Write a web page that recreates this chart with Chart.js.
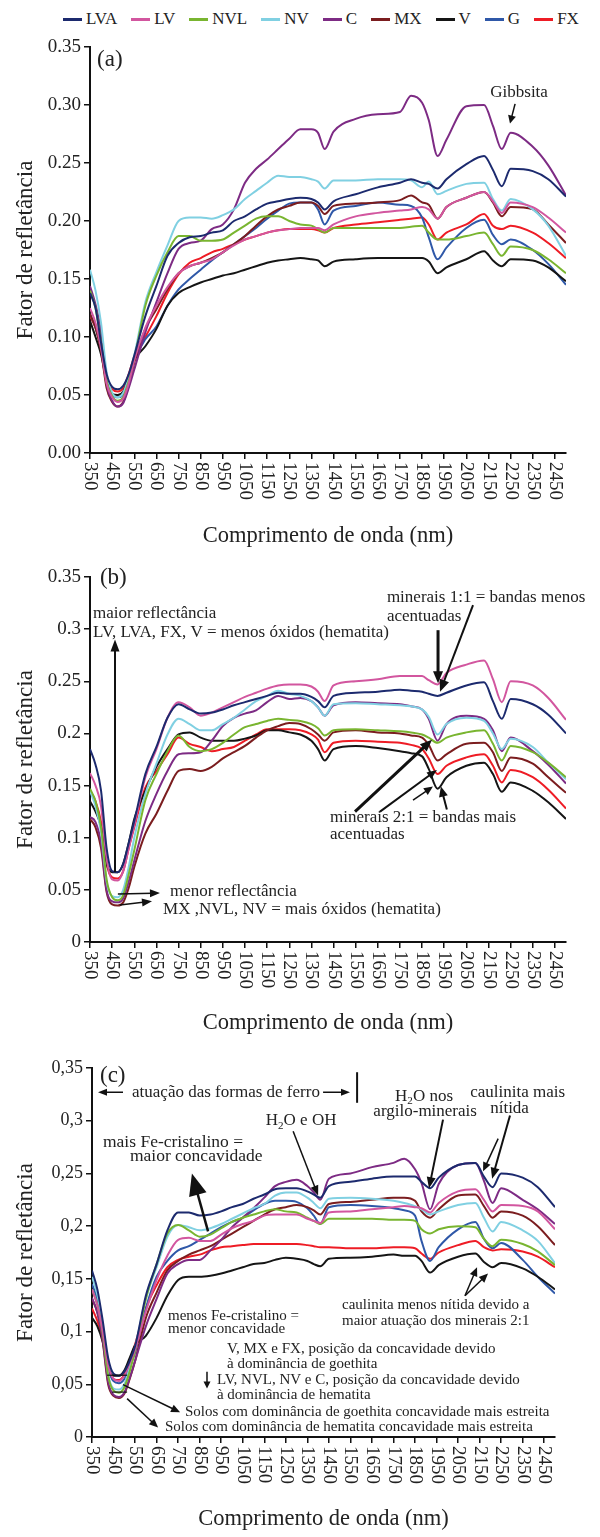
<!DOCTYPE html>
<html>
<head>
<meta charset="utf-8">
<script src="https://cdn.jsdelivr.net/npm/chart.js@4.4.0/dist/chart.umd.min.js"></script>
<style>
body { margin: 0; background: #fff; width: 600px; height: 1537px; position: relative; overflow: hidden;
       font-family: "Liberation Serif", "Times New Roman", serif; color: #222; }
#legend { position: absolute; left: 63px; top: 9px; display: flex; gap: 14px; font-size: 17px; line-height: 20px; }
#legend .item { display: flex; align-items: center; gap: 4px; }
#legend i { display: inline-block; width: 19px; height: 3px; }
canvas { position: absolute; left: 0; }
</style>
</head>
<body>
<div id="legend"></div>
<canvas id="chartA" width="600" height="530" style="top:30px"></canvas>
<canvas id="chartB" width="600" height="485" style="top:560px"></canvas>
<canvas id="chartC" width="600" height="492" style="top:1045px"></canvas>
<script>
// wavelengths (nm) shared by all three panels
const waveNm = [350, 375, 400, 425, 450, 475, 500, 525, 550, 600, 650, 700, 750, 800, 850, 900, 950, 1000,
  1050, 1100, 1150, 1200, 1250, 1300, 1350, 1380, 1410, 1450, 1550, 1650, 1750, 1800, 1850, 1880, 1920, 1960,
  2050, 2130, 2170, 2210, 2250, 2350, 2420, 2500];
const xTicks = [350, 450, 550, 650, 750, 850, 950, 1050, 1150, 1250, 1350, 1450, 1550, 1650, 1750, 1850, 1950, 2050, 2150, 2250, 2350, 2450];

const seriesNames = ['LVA', 'LV', 'NVL', 'NV', 'C', 'MX', 'V', 'G', 'FX'];
const seriesColors = ['#1c2a6e', '#d2569f', '#79b530', '#80d0e2', '#7d2b84', '#7b1d1f', '#151515', '#2f58a8', '#ee1c25'];

// panel (a)
const lvaA = [.138,.125,.095,.068,.057,.055,.058,.068,.084, .118,.144,.170,.181,.186,.187,.190,.192,.200, .204,.210,.215,.217,.219,.220,.219,.216,.210, .217,.223,.229,.233,.236,.233,.232,.228,.236, .249,.256,.244,.230,.245,.243,.236,.221];
const lvA = [.125,.112,.090,.060,.048,.044,.047,.060,.080, .108,.127,.143,.155,.161,.164,.167,.173,.179, .184,.187,.190,.192,.193,.194,.194,.194,.192, .197,.204,.207,.209,.210,.212,.210,.202,.212, .220,.225,.217,.207,.216,.212,.203,.190];
const nvlA = [.140,.125,.095,.062,.049,.045,.048,.062,.081, .127,.153,.173,.187,.187,.183,.183,.184,.190, .196,.202,.204,.204,.200,.197,.196,.193,.190, .194,.194,.194,.194,.195,.196,.190,.184,.184, .187,.190,.180,.170,.178,.175,.167,.155];
const nvA = [.158,.140,.112,.070,.052,.048,.052,.065,.084, .130,.156,.179,.200,.203,.203,.202,.205,.210, .219,.226,.233,.239,.238,.238,.236,.234,.228, .235,.235,.236,.236,.235,.229,.234,.223,.226, .232,.233,.219,.209,.219,.210,.196,.170];
const cA = [.144,.128,.104,.060,.045,.040,.043,.056,.072, .104,.130,.155,.176,.181,.183,.193,.197,.210, .233,.245,.253,.262,.271,.279,.279,.276,.262, .277,.288,.292,.294,.308,.302,.287,.256,.270, .299,.300,.282,.262,.276,.264,.248,.222];
const mxA = [.120,.108,.088,.056,.044,.040,.044,.058,.078, .107,.124,.141,.155,.161,.164,.168,.173,.180, .187,.196,.204,.210,.213,.216,.216,.213,.206, .213,.215,.216,.218,.222,.216,.214,.202,.212, .220,.225,.216,.204,.212,.210,.197,.181];
const vA = [.114,.100,.085,.062,.051,.050,.053,.065,.080, .092,.107,.127,.138,.143,.147,.150,.153,.155, .158,.161,.164,.166,.167,.168,.167,.166,.161, .165,.167,.168,.168,.168,.168,.165,.155,.160, .167,.174,.166,.161,.167,.166,.160,.148];
const gA = [.120,.108,.090,.062,.051,.048,.050,.062,.080, .098,.109,.127,.141,.150,.158,.166,.173,.180, .187,.194,.202,.209,.215,.216,.216,.210,.197, .209,.213,.216,.214,.213,.203,.186,.167,.177, .194,.201,.188,.180,.184,.175,.163,.145];
const fxA = [.118,.108,.090,.065,.055,.053,.056,.068,.083, .100,.118,.138,.154,.164,.168,.173,.176,.180, .184,.187,.190,.192,.193,.193,.193,.192,.190, .194,.197,.199,.201,.202,.203,.197,.184,.190, .197,.206,.196,.193,.196,.190,.181,.168];

// panel (b) - no G curve
const lvaB = [.185,.170,.145,.090,.068,.067,.075,.095,.116, .161,.187,.215,.228,.223,.219,.220,.223,.227, .230,.233,.236,.239,.238,.238,.235,.231,.225, .236,.239,.240,.242,.241,.240,.238,.236,.239, .246,.249,.231,.214,.233,.228,.218,.200];
const lvB = [.162,.150,.130,.080,.060,.059,.068,.090,.112, .158,.185,.215,.230,.225,.217,.220,.225,.230, .235,.239,.243,.246,.247,.247,.245,.240,.231, .246,.250,.252,.255,.255,.255,.251,.247,.258, .266,.270,.252,.230,.250,.246,.234,.213];
const nvlB = [.147,.135,.110,.060,.043,.040,.045,.065,.088, .136,.161,.183,.198,.187,.183,.185,.191,.199, .206,.209,.212,.214,.213,.212,.209,.205,.198, .203,.204,.203,.202,.201,.199,.196,.191,.196, .201,.203,.190,.174,.188,.182,.172,.158];
const nvB = [.145,.130,.105,.058,.044,.043,.050,.072,.100, .142,.171,.199,.214,.209,.203,.203,.209,.215, .223,.231,.236,.241,.238,.236,.231,.225,.217, .228,.229,.228,.227,.226,.223,.216,.199,.209, .215,.212,.200,.185,.195,.187,.172,.156];
const cB = [.120,.115,.095,.050,.039,.038,.042,.058,.078, .116,.142,.164,.180,.181,.182,.193,.207,.215, .219,.222,.230,.236,.233,.234,.231,.225,.217, .227,.230,.229,.228,.226,.223,.214,.193,.209, .217,.214,.203,.183,.196,.183,.170,.152];
const mxB = [.118,.110,.090,.048,.036,.035,.038,.052,.072, .104,.123,.145,.164,.166,.164,.168,.176,.182, .188,.196,.203,.207,.210,.209,.204,.199,.193, .201,.203,.201,.200,.198,.196,.189,.174,.180, .190,.191,.182,.164,.177,.171,.158,.143];
const vB = [.135,.125,.110,.075,.067,.067,.075,.095,.118, .145,.168,.185,.199,.201,.196,.193,.193,.193, .195,.198,.203,.203,.201,.199,.193,.185,.174, .185,.188,.186,.183,.181,.178,.166,.147,.158, .169,.172,.161,.144,.153,.145,.134,.118];
const fxB = [.145,.135,.115,.075,.062,.061,.068,.090,.110, .148,.164,.180,.196,.190,.187,.183,.185,.187, .193,.199,.204,.204,.204,.203,.199,.194,.182, .191,.193,.192,.191,.189,.185,.176,.161,.169, .177,.180,.169,.153,.165,.158,.146,.128];

// panel (c)
const lvaC = [.158,.140,.110,.075,.060,.058,.062,.072,.086, .134,.164,.196,.213,.213,.210,.211,.214,.218, .221,.226,.230,.235,.236,.236,.233,.230,.227, .238,.242,.245,.247,.247,.247,.242,.236,.246, .258,.260,.247,.237,.250,.246,.237,.218];
const lvC = [.140,.125,.100,.068,.055,.053,.058,.070,.083, .119,.149,.172,.187,.189,.186,.186,.192,.198, .202,.205,.210,.211,.211,.211,.207,.205,.203, .213,.214,.216,.218,.219,.218,.217,.213,.222, .233,.235,.225,.214,.220,.219,.214,.197];
const nvlC = [.140,.125,.098,.058,.044,.042,.047,.062,.082, .131,.164,.193,.201,.196,.190,.192,.198,.204, .208,.211,.214,.216,.214,.213,.208,.205,.202, .207,.207,.207,.206,.206,.205,.197,.193,.197, .200,.199,.188,.181,.187,.183,.176,.163];
const nvC = [.152,.135,.105,.060,.046,.045,.050,.066,.085, .131,.161,.190,.201,.199,.196,.198,.202,.207, .212,.217,.221,.229,.232,.232,.227,.222,.217, .226,.227,.226,.224,.222,.219,.216,.211,.214, .220,.222,.208,.195,.204,.196,.186,.165];
const cC = [.132,.118,.092,.052,.040,.038,.042,.056,.072, .105,.131,.155,.164,.168,.168,.177,.187,.199, .208,.217,.227,.238,.242,.244,.238,.232,.225, .245,.250,.256,.260,.264,.254,.241,.216,.240, .258,.260,.243,.222,.236,.225,.216,.202];
const mxC = [.131,.118,.090,.050,.039,.037,.041,.055,.072, .113,.137,.158,.167,.173,.177,.181,.187,.193, .199,.205,.211,.216,.218,.220,.218,.215,.211, .221,.223,.225,.227,.227,.224,.214,.208,.216, .229,.230,.219,.208,.214,.210,.200,.182];
const vC = [.113,.105,.090,.066,.058,.058,.063,.075,.087, .096,.113,.134,.149,.152,.152,.153,.155,.158, .161,.164,.165,.168,.170,.169,.167,.164,.162, .169,.170,.171,.173,.172,.172,.167,.156,.163, .171,.174,.166,.161,.165,.160,.152,.140];
const gC = [.145,.130,.100,.066,.053,.051,.055,.067,.080, .122,.152,.167,.177,.181,.187,.193,.199,.204, .208,.215,.221,.224,.224,.223,.217,.210,.202, .218,.220,.219,.217,.215,.210,.186,.167,.180, .197,.204,.188,.179,.184,.168,.152,.136];
const fxC = [.122,.110,.092,.065,.055,.054,.059,.072,.088, .122,.144,.161,.168,.171,.173,.177,.180,.181, .182,.183,.183,.183,.183,.183,.182,.181,.180, .180,.179,.179,.180,.180,.179,.174,.169,.175, .182,.186,.180,.177,.178,.176,.171,.161];

const panelA = [lvaA, lvA, nvlA, nvA, cA, mxA, vA, gA, fxA];
const panelB = [lvaB, lvB, nvlB, nvB, cB, mxB, vB, null, fxB];
const panelC = [lvaC, lvC, nvlC, nvC, cC, mxC, vC, gC, fxC];

// annotations, positioned in data units (nm, reflectance)
const notesA = [
  {t: 'text', x: 382, y: 0.339, s: '(a)', size: 23},
  {t: 'text', x: 2288, y: 0.311, s: 'Gibbsita', size: 17, align: 'center'},
  {t: 'arrow', x1: 2270, y1: 0.301, x2: 2247, y2: 0.284, w: 1.5, head: 8, hw: 4}
];
const notesB = [
  {t: 'text', x: 395, y: 0.349, s: '(b)', size: 23},
  {t: 'text', x: 364, y: 0.315, s: 'maior reflectância', size: 17},
  {t: 'text', x: 364, y: 0.297, s: 'LV, LVA, FX, V = menos óxidos (hematita)', size: 17},
  {t: 'arrow', x1: 463, y1: 0.067, x2: 463, y2: 0.29, w: 2, head: 12, hw: 4.5},
  {t: 'text', x: 711, y: 0.048, s: 'menor reflectância', size: 17},
  {t: 'text', x: 680, y: 0.031, s: 'MX ,NVL, NV = mais óxidos (hematita)', size: 17},
  {t: 'arrow', x1: 476, y1: 0.046, x2: 666, y2: 0.047, w: 1.5, head: 10, hw: 4},
  {t: 'arrow', x1: 485, y1: 0.0355, x2: 630, y2: 0.039, w: 1.5, head: 10, hw: 4},
  {t: 'text', x: 1691, y: 0.33, s: 'minerais 1:1 = bandas menos', size: 17},
  {t: 'text', x: 1691, y: 0.312, s: 'acentuadas', size: 17},
  {t: 'arrow', x1: 1922, y1: 0.299, x2: 1922, y2: 0.248, w: 3, head: 12, hw: 5},
  {t: 'arrow', x1: 2080, y1: 0.323, x2: 1931, y2: 0.24, w: 2, head: 12, hw: 5},
  {t: 'text', x: 1434, y: 0.119, s: 'minerais 2:1 = bandas mais', size: 17},
  {t: 'text', x: 1434, y: 0.103, s: 'acentuadas', size: 17},
  {t: 'arrow', x1: 1547, y1: 0.125, x2: 1895, y2: 0.194, w: 3, head: 12, hw: 5},
  {t: 'arrow', x1: 1660, y1: 0.125, x2: 1917, y2: 0.165, w: 2, head: 10, hw: 4},
  {t: 'arrow', x1: 1809, y1: 0.136, x2: 1899, y2: 0.149, w: 1.5, head: 9, hw: 4},
  {t: 'arrow', x1: 1962, y1: 0.127, x2: 1935, y2: 0.149, w: 2, head: 10, hw: 4.5}
];
const notesC = [
  {t: 'text', x: 387, y: 0.342, s: '(c)', size: 23},
  {t: 'arrow', x1: 494, y1: 0.327, x2: 378, y2: 0.327, w: 1.5, head: 9, hw: 3.5},
  {t: 'text', x: 536, y: 0.327, s: 'atuação das formas de ferro', size: 17},
  {t: 'arrow', x1: 1423, y1: 0.327, x2: 1548, y2: 0.327, w: 1.5, head: 9, hw: 3.5},
  {t: 'line', x1: 1581, y1: 0.346, x2: 1581, y2: 0.317, w: 2},
  {t: 'text', x: 1321, y: 0.300, s: [['H', 0], ['2', 1], ['O e OH', 0]], size: 17, align: 'center'},
  {t: 'arrow', x1: 1284, y1: 0.290, x2: 1400, y2: 0.229, w: 1.5, head: 10, hw: 4},
  {t: 'text', x: 401, y: 0.279, s: 'mais Fe-cristalino =', size: 17.5},
  {t: 'text', x: 526, y: 0.266, s: 'maior concavidade', size: 17.5},
  {t: 'arrow', x1: 889, y1: 0.195, x2: 814, y2: 0.25, w: 2.5, head: 22, hw: 9},
  {t: 'text', x: 703, y: 0.115, s: 'menos Fe-cristalino =', size: 15},
  {t: 'text', x: 703, y: 0.102, s: 'menor concavidade', size: 15},
  {t: 'text', x: 977, y: 0.0835, s: 'V, MX e FX, posição da concavidade devido', size: 15},
  {t: 'text', x: 977, y: 0.069, s: 'à dominância de goethita', size: 15},
  {t: 'arrow', x1: 884, y1: 0.062, x2: 884, y2: 0.046, w: 1.5, head: 7, hw: 3.5},
  {t: 'text', x: 930, y: 0.054, s: 'LV, NVL, NV e C, posição da concavidade devido', size: 15},
  {t: 'text', x: 930, y: 0.0395, s: 'à dominância de hematita', size: 15},
  {t: 'line', x1: 420, y1: 0.0586, x2: 513, y2: 0.0586, w: 1.2},
  {t: 'line', x1: 443, y1: 0.0426, x2: 513, y2: 0.0426, w: 1.2},
  {t: 'arrow', x1: 494, y1: 0.0497, x2: 759, y2: 0.0235, w: 1.5, head: 9, hw: 4},
  {t: 'text', x: 782, y: 0.0235, s: 'Solos com dominância de goethita concavidade mais estreita', size: 15},
  {t: 'arrow', x1: 513, y1: 0.0364, x2: 657, y2: 0.009, w: 1.5, head: 9, hw: 4},
  {t: 'text', x: 689, y: 0.009, s: 'Solos com dominância de hematita concavidade mais estreita', size: 15},
  {t: 'text', x: 1892, y: 0.323, s: [['H', 0], ['2', 1], ['O nos', 0]], size: 17, align: 'center'},
  {t: 'text', x: 1897, y: 0.309, s: 'argilo-minerais', size: 17, align: 'center'},
  {t: 'arrow', x1: 1980, y1: 0.301, x2: 1915, y2: 0.236, w: 2, head: 11, hw: 4.5},
  {t: 'text', x: 2106, y: 0.327, s: 'caulinita mais', size: 17},
  {t: 'text', x: 2199, y: 0.312, s: 'nítida', size: 17},
  {t: 'arrow', x1: 2291, y1: 0.305, x2: 2208, y2: 0.245, w: 2, head: 11, hw: 4.5},
  {t: 'arrow', x1: 2236, y1: 0.283, x2: 2166, y2: 0.252, w: 1.5, head: 9, hw: 4},
  {t: 'text', x: 1511, y: 0.125, s: 'caulinita menos nítida devido a', size: 15},
  {t: 'text', x: 1511, y: 0.110, s: 'maior atuação dos minerais 2:1', size: 15},
  {t: 'arrow', x1: 2082, y1: 0.134, x2: 2138, y2: 0.161, w: 1.5, head: 9, hw: 4},
  {t: 'arrow', x1: 2082, y1: 0.134, x2: 2189, y2: 0.155, w: 1.5, head: 9, hw: 4}
];

const FONT = '"Liberation Serif", "Times New Roman", serif';
const INK = '#222';
Chart.defaults.font.family = FONT;
Chart.defaults.color = INK;

// html legend
var legendEl = document.getElementById('legend');
seriesNames.forEach(function (name, i) {
  var item = document.createElement('span');
  item.className = 'item';
  item.innerHTML = '<i style="background:' + seriesColors[i] + '"></i>' + name;
  legendEl.appendChild(item);
});

function drawArrow(ctx, x1, y1, x2, y2, w, head, hw) {
  var a = Math.atan2(y2 - y1, x2 - x1);
  var c = Math.cos(a), s = Math.sin(a);
  ctx.lineWidth = w;
  ctx.beginPath();
  ctx.moveTo(x1, y1);
  ctx.lineTo(x2 - c * head * 0.7, y2 - s * head * 0.7);
  ctx.stroke();
  ctx.beginPath();
  ctx.moveTo(x2, y2);
  ctx.lineTo(x2 - head * c + hw * s, y2 - head * s - hw * c);
  ctx.lineTo(x2 - head * c - hw * s, y2 - head * s + hw * c);
  ctx.closePath();
  ctx.fill();
}

function drawText(ctx, parts, x, y, size, align) {
  if (typeof parts === 'string') parts = [[parts, 0]];
  var widths = parts.map(function (p) {
    ctx.font = (p[1] ? size * 0.65 : size) + 'px ' + FONT;
    return ctx.measureText(p[0]).width;
  });
  var total = widths.reduce(function (a, b) { return a + b; }, 0);
  var cx = align === 'center' ? x - total / 2 : x;
  ctx.textAlign = 'left';
  ctx.textBaseline = 'middle';
  parts.forEach(function (p, i) {
    ctx.font = (p[1] ? size * 0.65 : size) + 'px ' + FONT;
    ctx.fillText(p[0], cx, p[1] ? y + size * 0.3 : y);
    cx += widths[i];
  });
}

// notes + rotated wavelength labels
function makeNotes(items, labelSize) {
  return {
    id: 'notes',
    afterDraw: function (chart) {
      var ctx = chart.ctx, sx = chart.scales.x, sy = chart.scales.y;
      ctx.save();
      ctx.fillStyle = INK;
      ctx.strokeStyle = '#111';
      // x tick labels read top to bottom
      ctx.font = labelSize + 'px ' + FONT;
      ctx.textAlign = 'left';
      ctx.textBaseline = 'middle';
      xTicks.forEach(function (v) {
        ctx.save();
        ctx.translate(sx.getPixelForValue(v), sx.top + 9);
        ctx.rotate(Math.PI / 2);
        ctx.fillText(String(v), 0, 0);
        ctx.restore();
      });
      ctx.fillStyle = '#111';
      items.forEach(function (n) {
        if (n.t === 'text') {
          ctx.fillStyle = INK;
          drawText(ctx, n.s, sx.getPixelForValue(n.x), sy.getPixelForValue(n.y), n.size, n.align);
          ctx.fillStyle = '#111';
        } else if (n.t === 'arrow') {
          drawArrow(ctx, sx.getPixelForValue(n.x1), sy.getPixelForValue(n.y1),
            sx.getPixelForValue(n.x2), sy.getPixelForValue(n.y2), n.w, n.head, n.hw);
        } else if (n.t === 'line') {
          ctx.lineWidth = n.w;
          ctx.beginPath();
          ctx.moveTo(sx.getPixelForValue(n.x1), sy.getPixelForValue(n.y1));
          ctx.lineTo(sx.getPixelForValue(n.x2), sy.getPixelForValue(n.y2));
          ctx.stroke();
        }
      });
      ctx.restore();
    }
  };
}

function buildChart(id, panel, notes, cfg) {
  var datasets = [];
  panel.forEach(function (vals, i) {
    if (!vals) return;
    datasets.push({
      label: seriesNames[i],
      data: waveNm.map(function (w, k) { return {x: w, y: vals[k]}; }),
      borderColor: seriesColors[i],
      backgroundColor: seriesColors[i],
      borderWidth: 2,
      pointRadius: 0,
      cubicInterpolationMode: 'monotone',
      fill: false
    });
  });
  return new Chart(document.getElementById(id), {
    type: 'line',
    data: {datasets: datasets},
    options: {
      responsive: false,
      animation: false,
      layout: {padding: {top: cfg.padTop, right: cfg.padRight, bottom: 0, left: 0}},
      plugins: {legend: {display: false}, tooltip: {enabled: false}},
      scales: {
        x: {
          type: 'linear',
          min: 350, max: 2500,
          afterBuildTicks: function (s) { s.ticks = xTicks.map(function (v) { return {value: v}; }); },
          afterFit: function (s) { s.height = cfg.xHeight; },
          border: {color: '#111', width: 2},
          grid: {drawOnChartArea: false, drawTicks: true, tickLength: 6, color: '#111', lineWidth: 1.5},
          ticks: {display: false},
          title: {display: true, text: 'Comprimento de onda (nm)', font: {size: 22.5}, color: INK,
                  padding: {top: 0, bottom: cfg.xTitlePad}}
        },
        y: {
          min: 0, max: 0.35,
          afterFit: function (s) { s.width = cfg.yWidth; },
          border: {color: '#111', width: 2},
          grid: {drawOnChartArea: false, drawTicks: true, tickLength: 6, color: '#111', lineWidth: 1.5},
          ticks: {stepSize: 0.05, font: {size: cfg.yTickSize}, color: INK, padding: 3, callback: cfg.fmt},
          title: {display: true, text: 'Fator de refletância', font: {size: 23}, color: INK,
                  padding: {top: 12, bottom: 0}}
        }
      }
    },
    plugins: [makeNotes(notes, 19)]
  });
}

buildChart('chartA', panelA, notesA, {padTop: 17, padRight: 34, xHeight: 107, xTitlePad: 10.5, yWidth: 90, yTickSize: 19,
  fmt: function (v) { return v.toFixed(2); }});
buildChart('chartB', panelB, notesB, {padTop: 17, padRight: 34, xHeight: 103, xTitlePad: 8.5, yWidth: 90, yTickSize: 19,
  fmt: function (v) { return String(Math.round(v * 100) / 100); }});
buildChart('chartC', panelC, notesC, {padTop: 23, padRight: 45, xHeight: 100, xTitlePad: 4.5, yWidth: 92, yTickSize: 18,
  fmt: function (v) { return String(Math.round(v * 100) / 100).replace('.', ','); }});
</script>
</body>
</html>
